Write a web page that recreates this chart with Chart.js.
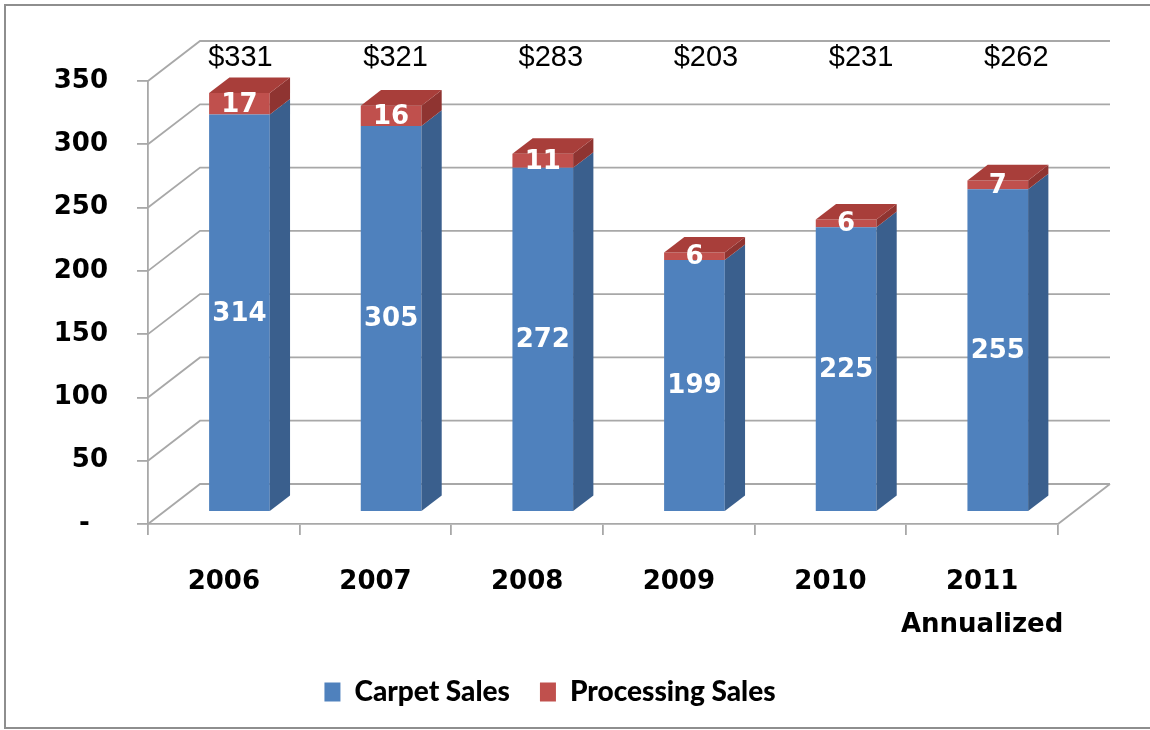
<!DOCTYPE html>
<html>
<head>
<meta charset="utf-8">
<title>Carpet and Processing Sales</title>
<script src="https://cdn.jsdelivr.net/npm/chart.js@4.4.1/dist/chart.umd.min.js"></script>
<style>
  html, body { margin: 0; padding: 0; background: #fff; overflow: hidden; }
  canvas { display: block; }
</style>
</head>
<body>
<canvas id="chart" width="1150" height="730"></canvas>
<script>
const years = ['2006', '2007', '2008', '2009', '2010', ['2011', 'Annualized']];
const carpetSales = [314, 305, 272, 199, 225, 255];
const processingSales = [17, 16, 11, 6, 6, 7];
const totalLabels = ['$331', '$321', '$283', '$203', '$231', '$262'];
const yTicks = [0, 50, 100, 150, 200, 250, 300, 350];

// fake depth of the 3D box: back wall offset from the front axis
const DEPTH_X = 52, DEPTH_Y = -40;
// front and back face of the columns as a fraction of that depth
const BAR_FRONT = 0.3, BAR_BACK = 0.69;
const GRID_COLOR = '#a8a8a8';
const AXIS_FONT = { family: 'DejaVu Sans', size: 26, weight: 'bold' };

const box3d = {
  id: 'box3d',
  beforeDraw(chart) {
    const c = chart.ctx;
    c.save();
    c.fillStyle = '#fff';
    c.fillRect(0, 0, chart.width, chart.height);
    // outer frame, open on the right
    c.strokeStyle = '#8e8e8e';
    c.lineWidth = 2;
    c.beginPath();
    c.moveTo(chart.width, 5);
    c.lineTo(5, 5);
    c.lineTo(5, 728);
    c.lineTo(chart.width, 728);
    c.stroke();
    c.restore();
  },
  beforeDatasetsDraw(chart) {
    const c = chart.ctx;
    const { left, right, bottom } = chart.chartArea;
    const y = chart.scales.y;
    // side wall diagonals + back wall gridlines, then the floor's right edge
    c.save();
    c.strokeStyle = GRID_COLOR;
    c.lineWidth = 1.8;
    c.beginPath();
    y.ticks.forEach(t => {
      const py = y.getPixelForValue(t.value);
      c.moveTo(left, py);
      c.lineTo(left + DEPTH_X, py + DEPTH_Y);
      c.lineTo(right + DEPTH_X, py + DEPTH_Y);
    });
    c.moveTo(right, bottom);
    c.lineTo(right + DEPTH_X, bottom + DEPTH_Y);
    c.stroke();
    c.restore();

    // columns stand partway back on the floor
    c.save();
    c.translate(DEPTH_X * BAR_FRONT, DEPTH_Y * BAR_FRONT);
  },
  afterDatasetsDraw(chart) {
    const c = chart.ctx;
    const dx = DEPTH_X * (BAR_BACK - BAR_FRONT);
    const dy = DEPTH_Y * (BAR_BACK - BAR_FRONT);
    const datasets = chart.data.datasets;
    const last = datasets.length - 1;

    datasets.forEach((ds, di) => {
      chart.getDatasetMeta(di).data.forEach(bar => {
        const { x, y, base, width } = bar.getProps(['x', 'y', 'base', 'width'], true);
        const l = x - width / 2, r = x + width / 2;
        c.fillStyle = ds.sideColor;
        c.beginPath();
        c.moveTo(r, y);
        c.lineTo(r + dx, y + dy);
        c.lineTo(r + dx, base + dy);
        c.lineTo(r, base);
        c.closePath();
        c.fill();
        if (di === last) {
          c.fillStyle = ds.topColor;
          c.beginPath();
          c.moveTo(l, y);
          c.lineTo(l + dx, y + dy);
          c.lineTo(r + dx, y + dy);
          c.lineTo(r, y);
          c.closePath();
          c.fill();
        }
      });
    });

    // value labels in the middle of each segment
    c.fillStyle = '#fff';
    c.font = 'bold 26px "DejaVu Sans"';
    c.textAlign = 'center';
    c.textBaseline = 'middle';
    datasets.forEach((ds, di) => {
      chart.getDatasetMeta(di).data.forEach((bar, i) => {
        const { x, y, base } = bar.getProps(['x', 'y', 'base'], true);
        c.fillText(String(ds.data[i]), x, (y + base) / 2 + 1);
      });
    });
    c.restore();

    // totals row above the box, spread a little wider than the columns
    c.fillStyle = '#000';
    c.font = '29px "Liberation Sans"';
    c.textAlign = 'center';
    c.textBaseline = 'middle';
    chart.getDatasetMeta(0).data.forEach((bar, i) => {
      const bx = bar.getProps(['x'], true).x + DEPTH_X * BAR_FRONT;
      c.fillText(totalLabels[i], bx + 1 + i * 3.5, 58);
    });
  }
};

new Chart(document.getElementById('chart'), {
  type: 'bar',
  data: {
    labels: years,
    datasets: [
      {
        label: 'Carpet Sales',
        data: carpetSales,
        backgroundColor: '#4f81bd',
        sideColor: '#3a5f8d',
        topColor: '#6d95c9',
        borderWidth: 0
      },
      {
        label: 'Processing Sales',
        data: processingSales,
        backgroundColor: '#c0504d',
        sideColor: '#8f3431',
        topColor: '#a83e3a',
        borderWidth: 0
      }
    ]
  },
  options: {
    responsive: false,
    animation: false,
    layout: { padding: { left: 42, top: 81, right: 92, bottom: 14 } },
    datasets: {
      bar: { barPercentage: 0.4, categoryPercentage: 1 }
    },
    scales: {
      x: {
        stacked: true,
        afterFit: s => { s.height = 124; },
        grid: {
          offset: true,
          drawOnChartArea: false,
          tickLength: 11,
          color: GRID_COLOR,
          lineWidth: 1.8
        },
        border: { color: GRID_COLOR, width: 1.8 },
        ticks: {
          color: '#000',
          padding: 26,
          autoSkip: false,
          maxRotation: 0,
          font: { ...AXIS_FONT, lineHeight: 1.65 }
        }
      },
      y: {
        stacked: true,
        min: 0,
        max: 350,
        afterBuildTicks: s => { s.ticks = yTicks.map(v => ({ value: v })); },
        afterFit: s => { s.width = 106; },
        grid: {
          drawOnChartArea: false,
          tickLength: 11,
          color: GRID_COLOR,
          lineWidth: 1.8
        },
        border: { color: GRID_COLOR, width: 1.8 },
        ticks: {
          color: '#000',
          padding: 29,
          font: AXIS_FONT,
          callback: v => (v === 0 ? '-  ' : String(v))
        }
      }
    },
    plugins: {
      legend: {
        position: 'bottom',
        labels: {
          color: '#000',
          boxWidth: 16,
          boxHeight: 19,
          padding: 30,
          font: { family: 'Lato', size: 28, weight: 900 }
        }
      },
      tooltip: { enabled: false }
    }
  },
  plugins: [box3d]
});
</script>
</body>
</html>
